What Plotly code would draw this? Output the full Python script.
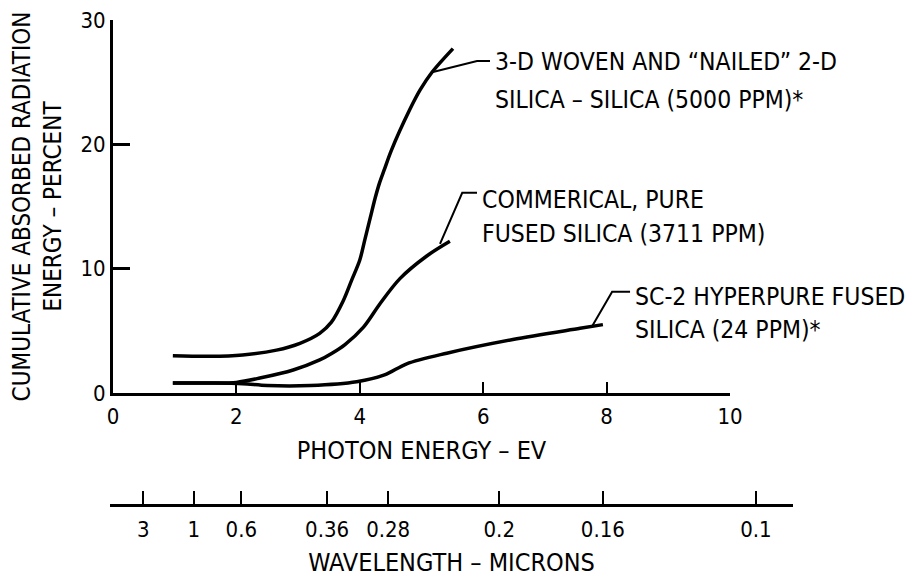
import plotly.graph_objects as go

# ---------------- data ----------------
energy_ticks = [0, 2, 4, 6, 8, 10]
absorb_ticks = [0, 10, 20, 30]

woven_x = [0.97, 1.57, 2.1, 2.65, 3.03, 3.35, 3.54, 3.73, 3.87, 4.0, 4.08, 4.17, 4.25, 4.32, 4.4,
           4.51, 4.81, 4.98, 5.17, 5.51]
woven_y = [3.0, 2.95, 3.06, 3.45, 4.0, 4.8, 5.7, 7.4, 9.1, 10.7, 12.3, 14.1, 15.7, 16.9, 18.0,
           19.5, 22.8, 24.4, 25.8, 27.7]

comm_x = [0.97, 1.6, 2.0, 2.38, 2.92, 3.35, 3.55, 3.76, 4.06, 4.33, 4.65, 5.08, 5.46]
comm_y = [0.8, 0.8, 0.85, 1.2, 1.85, 2.66, 3.2, 3.9, 5.3, 7.2, 9.2, 11.0, 12.2]

hyper_x = [0.97, 1.6, 2.1, 2.5, 3.2, 3.95, 4.4, 4.76, 5.41, 6.48, 7.57, 7.94]
hyper_y = [0.8, 0.8, 0.75, 0.6, 0.6, 0.9, 1.45, 2.35, 3.2, 4.3, 5.2, 5.5]

wavelength_labels = ["3", "1", "0.6", "0.36", "0.28", "0.2", "0.16", "0.1"]
wavelength_pos_ev = [0.49, 1.31, 2.08, 3.47, 4.46, 6.26, 7.94, 10.42]

woven_label = ["3-D WOVEN AND \u201cNAILED\u201d 2-D", "SILICA \u2013 SILICA (5000 PPM)*"]
comm_label = ["COMMERICAL, PURE", "FUSED SILICA (3711 PPM)"]
hyper_label = ["SC-2 HYPERPURE FUSED", "SILICA (24 PPM)*"]

x_title = "PHOTON ENERGY \u2013 EV"
y_title = "CUMULATIVE ABSORBED RADIATION<br>ENERGY \u2013 PERCENT"
w_title = "WAVELENGTH \u2013 MICRONS"

# ---------------- styling ----------------
FONT = "DejaVu Sans Condensed, Roboto Condensed, Liberation Sans Narrow, DejaVu Sans"
INK = "black"

fig = go.Figure()
for xs, ys in [(woven_x, woven_y), (comm_x, comm_y), (hyper_x, hyper_y)]:
    fig.add_trace(go.Scatter(x=xs, y=ys, mode="lines",
                             line=dict(color=INK, width=3.5, shape="spline", smoothing=0.9),
                             showlegend=False, hoverinfo="skip"))

# carrier trace for the wavelength scale
fig.add_trace(go.Scatter(x=wavelength_pos_ev, y=[None] * len(wavelength_pos_ev),
                         xaxis="x2", yaxis="y", mode="markers",
                         showlegend=False, hoverinfo="skip"))

# labels with leader lines: (label lines, curve point, corner, text start x, line ys)
labels = [
    (woven_label, (woven_x[18], woven_y[18]), (5.9, 26.7), 6.16, [26.7, 23.6]),
    (comm_label, (comm_x[11] + 0.22, comm_y[11] + 1.0), (5.66, 16.1), 5.95, [15.6, 12.8]),
    (hyper_label, (hyper_x[10] + 0.2, hyper_y[10] + 0.2), (8.09, 8.15), 8.43, [7.74, 5.1]),
]
for lines, pt, corner, tx, ys in labels:
    fig.add_shape(type="path",
                  path=f"M {pt[0]} {pt[1]} L {corner[0]} {corner[1]} L {tx - 0.05} {corner[1]}",
                  xref="x", yref="y", line=dict(color=INK, width=2))
    for txt, yy in zip(lines, ys):
        fig.add_annotation(x=tx, y=yy, xref="x", yref="y", text=txt, showarrow=False,
                           xanchor="left", yanchor="middle",
                           font=dict(family=FONT, size=24.5, color=INK))

W, H = 914, 577
OFF = 8  # page body margin in the browser
left_px, right_px, top_px, bottom_px = 110 - OFF, 793 - OFF, 20 - OFF, 505 - OFF
ml, mr, mt, mb = left_px, W - right_px, top_px, H - bottom_px
pw = W - ml - mr
ph = H - mt - mb
x0_px, x10_px, y0_px = 113 - OFF, 730 - OFF, 393 - OFF
ev_per_px = 10.0 / (x10_px - x0_px)

fig.update_layout(
    width=W, height=H,
    template="none",
    paper_bgcolor="white", plot_bgcolor="rgba(0,0,0,0)",
    margin=dict(l=ml, r=mr, t=mt, b=mb, pad=0),
    showlegend=False,
    font=dict(family=FONT, color=INK, size=22),
    xaxis=dict(
        domain=[(x0_px - ml) / pw, (x10_px - ml) / pw], range=[0, 10], anchor="y",
        tickvals=energy_ticks, ticktext=[str(v) for v in energy_ticks],
        ticks="inside", ticklen=11, tickwidth=2, tickcolor=INK,
        showline=True, linewidth=3, linecolor=INK,
        showgrid=False, zeroline=False, automargin=False,
        tickfont=dict(family=FONT, size=22, color=INK),
        ticklabelstandoff=2, ticklabeloverflow="allow",
        title=dict(text=x_title, font=dict(family=FONT, size=25, color=INK), standoff=14),
    ),
    yaxis=dict(
        domain=[(bottom_px - y0_px) / ph, 1], range=[0, 30], anchor="x",
        tickvals=absorb_ticks, ticktext=[str(v) for v in absorb_ticks],
        ticks="inside", ticklen=17, tickwidth=2.5, tickcolor=INK,
        showline=True, linewidth=3, linecolor=INK,
        showgrid=False, zeroline=False, automargin=False,
        tickfont=dict(family=FONT, size=22, color=INK),
        ticklabeloverflow="allow",
        title=dict(text=y_title, font=dict(family=FONT, size=24, color=INK), standoff=12),
    ),
    xaxis2=dict(
        domain=[0, 1],
        range=[(left_px - x0_px) * ev_per_px, (right_px - x0_px) * ev_per_px],
        anchor="free", position=0,
        tickvals=wavelength_pos_ev, ticktext=wavelength_labels,
        ticks="inside", ticklen=13, tickwidth=2, tickcolor=INK,
        showline=True, linewidth=3, linecolor=INK,
        showgrid=False, zeroline=False, automargin=False,
        tickfont=dict(family=FONT, size=22, color=INK),
        ticklabelstandoff=4, ticklabeloverflow="allow",
        title=dict(text=w_title, font=dict(family=FONT, size=25, color=INK), standoff=12),
    ),
)

fig.write_html("out.html")
